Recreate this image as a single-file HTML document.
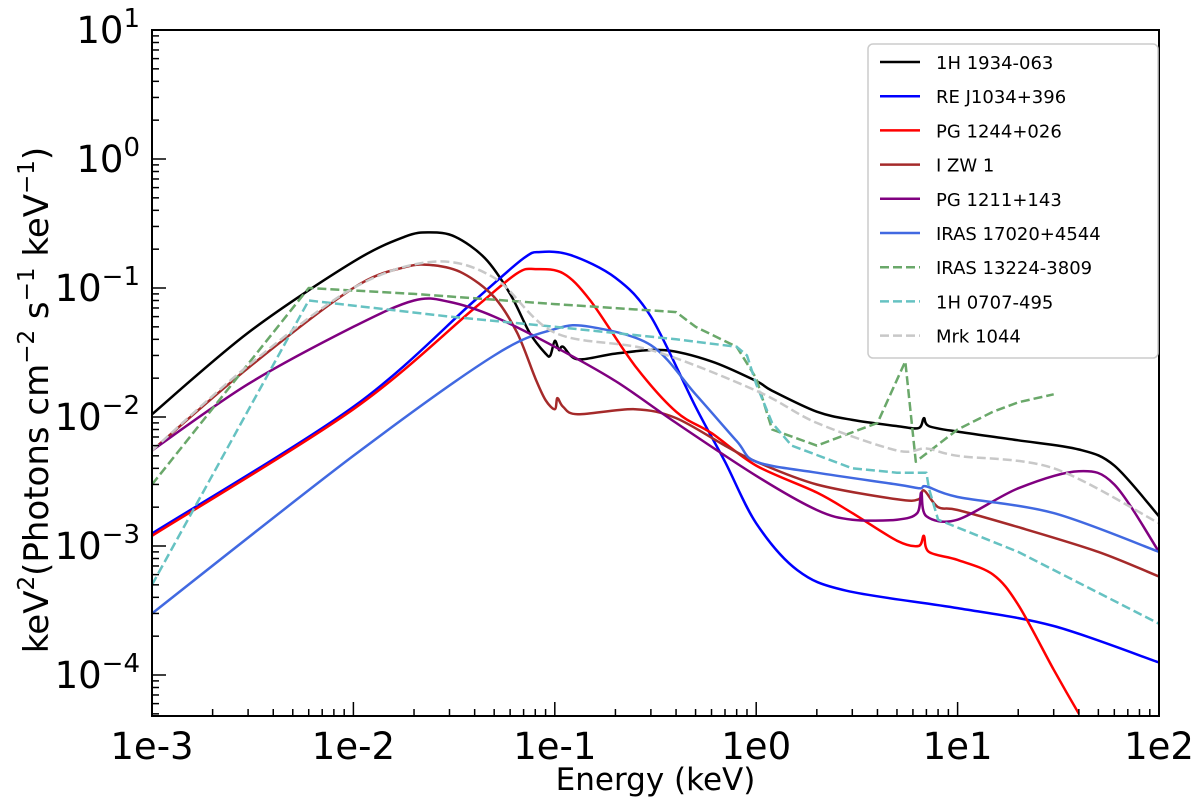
<!DOCTYPE html>
<html><head><meta charset="utf-8"><style>
body{margin:0;background:#fff;}
svg{display:block;font-family:"DejaVu Sans","Liberation Sans",sans-serif;}
</style></head><body>
<svg id="chart" width="1200" height="808"></svg>
<script>
const xTickLabels=["1e-3","1e-2","1e-1","1e0","1e1","1e2"];
const yTickExp=[-4,-3,-2,-1,0,1];
const names=["1H 1934-063","RE J1034+396","PG 1244+026","I ZW 1","PG 1211+143","IRAS 17020+4544","IRAS 13224-3809","1H 0707-495","Mrk 1044"];
const colors=["#000000","#0000ff","#ff0000","#a52a2a","#800080","#4169e1","#6aa86a","#66c2c2","#c8c8c8"];
const dashed=[false,false,false,false,false,false,true,true,true];
const e0=[0.001,0.003,0.01,0.018,0.024,0.032,0.045,0.06,0.075,0.09,0.095,0.1,0.105,0.11,0.13,0.2,0.35,0.6,1,1.2,2,3,5,6.4,6.8,7.2,10,20,40,60,100];
const y0=[0.0105,0.045,0.16,0.25,0.27,0.25,0.17,0.09,0.045,0.031,0.03,0.039,0.033,0.035,0.028,0.031,0.033,0.027,0.019,0.016,0.011,0.0095,0.0085,0.0082,0.0098,0.0085,0.0077,0.0066,0.0056,0.0042,0.0017];
const e1=[0.001,0.01,0.04,0.07,0.085,0.12,0.2,0.3,0.5,0.7,1,1.6,2.8,10,30,100];
const y1=[0.00125,0.012,0.08,0.17,0.19,0.18,0.12,0.06,0.012,0.0045,0.0015,0.00065,0.00045,0.00033,0.00024,0.000125];
const e2=[0.001,0.01,0.04,0.065,0.08,0.11,0.15,0.25,0.4,0.6,1,2,3,5,6.4,6.8,7.2,10,15,20,30,40];
const y2=[0.0012,0.0115,0.07,0.13,0.14,0.13,0.08,0.025,0.011,0.0075,0.0042,0.0026,0.0018,0.0011,0.001,0.0012,0.0009,0.00078,0.0006,0.00035,0.00011,0.00005];
const e3=[0.001,0.003,0.01,0.018,0.025,0.035,0.05,0.065,0.08,0.09,0.1,0.103,0.11,0.13,0.25,0.4,0.7,1,2,5,6.4,6.8,8,10,20,50,100];
const y3=[0.0055,0.024,0.1,0.145,0.15,0.13,0.085,0.045,0.02,0.0135,0.0115,0.014,0.012,0.0105,0.0115,0.0098,0.006,0.0045,0.003,0.0023,0.0023,0.0027,0.002,0.0019,0.0014,0.0009,0.00058];
const e4=[0.001,0.003,0.01,0.02,0.03,0.05,0.1,0.2,0.4,1,2,3,5,6.3,6.6,7,10,20,40,60,100];
const y4=[0.0055,0.018,0.05,0.08,0.078,0.06,0.035,0.019,0.009,0.0035,0.0019,0.0016,0.0016,0.0018,0.0026,0.0017,0.0016,0.0028,0.0038,0.003,0.0009];
const e5=[0.001,0.01,0.05,0.1,0.15,0.3,0.5,0.8,1,2,5,6.5,7,10,30,100];
const y5=[0.0003,0.005,0.03,0.048,0.05,0.036,0.015,0.0065,0.0045,0.0037,0.003,0.0028,0.0029,0.0024,0.0018,0.0009];
const e6=[0.001,0.006,0.02,0.1,0.4,0.5,0.8,1.0,1.2,2,4,5.5,6.2,10,15,20,30];
const y6=[0.003,0.1,0.09,0.075,0.065,0.05,0.035,0.02,0.008,0.006,0.009,0.027,0.0045,0.008,0.011,0.013,0.015];
const e7=[0.001,0.006,0.03,0.1,0.4,0.8,0.9,1.0,1.2,1.5,3,5,7,7.2,8,20,100];
const y7=[0.0005,0.08,0.06,0.05,0.04,0.035,0.03,0.018,0.009,0.006,0.004,0.0037,0.0037,0.0028,0.0016,0.0009,0.00025];
const e8=[0.001,0.003,0.01,0.025,0.05,0.1,0.3,1,2,5,7,10,30,100];
const y8=[0.0055,0.025,0.1,0.16,0.12,0.045,0.033,0.016,0.009,0.0055,0.0057,0.005,0.004,0.0015];
const Es=[e0,e1,e2,e3,e4,e5,e6,e7,e8];
const Ys=[y0,y1,y2,y3,y4,y5,y6,y7,y8];
const smoothed=[true,true,true,true,true,true,false,false,true];

const L=152,R=1159,T=30,B=716;
const xMinL=-3,xMaxL=2,yMaxL=1,yPerDec=129;
const X=e=>L+(Math.log10(e)-xMinL)/(xMaxL-xMinL)*(R-L);
const Y=v=>T+(yMaxL-Math.log10(v))*yPerDec;
const svg=document.getElementById('chart');
const NS='http://www.w3.org/2000/svg';
function mk(tag,attrs,parent){const el=document.createElementNS(NS,tag);for(const k in attrs)el.setAttribute(k,attrs[k]);(parent||svg).appendChild(el);return el;}
function smooth(pts){
  let d='M'+pts[0][0].toFixed(1)+','+pts[0][1].toFixed(1);
  const k=0.16;
  for(let i=0;i<pts.length-1;i++){
    const p0=pts[Math.max(0,i-1)],p1=pts[i],p2=pts[i+1],p3=pts[Math.min(pts.length-1,i+2)];
    const c1=[p1[0]+(p2[0]-p0[0])*k,p1[1]+(p2[1]-p0[1])*k];
    const c2=[p2[0]-(p3[0]-p1[0])*k,p2[1]-(p3[1]-p1[1])*k];
    d+='C'+c1[0].toFixed(1)+','+c1[1].toFixed(1)+' '+c2[0].toFixed(1)+','+c2[1].toFixed(1)+' '+p2[0].toFixed(1)+','+p2[1].toFixed(1);
  }
  return d;
}
function poly(pts){return pts.map((p,i)=>(i?'L':'M')+p[0].toFixed(1)+','+p[1].toFixed(1)).join('');}

const defs=mk('defs',{});const cp=mk('clipPath',{id:'clip'},defs);mk('rect',{x:L,y:T,width:R-L,height:B-T},cp);
const plot=mk('g',{'clip-path':'url(#clip)'});


for(let s=0;s<Es.length;s++){
  const pts=Es[s].map((e,i)=>[X(e),Y(Ys[s][i])]);
  const p=mk('path',{d:smoothed[s]?smooth(pts):poly(pts),fill:'none',stroke:colors[s],'stroke-width':2.5,'stroke-linejoin':'round'},plot);
  if(dashed[s])p.setAttribute('stroke-dasharray','9,4');
  
  
}
const fr=mk('rect',{x:L,y:T,width:R-L,height:B-T,fill:'none',stroke:'#000','stroke-width':2});


for(let dcd=-3;dcd<=2;dcd++){
  for(let m=1;m<10;m++){
    const e=m*Math.pow(10,dcd);if(e>100.0001)break;
    const x=X(e);const len=m===1?14:7;
    mk('line',{x1:x,x2:x,y1:B,y2:B-len,stroke:'#000','stroke-width':1.5});
  }
}
xTickLabels.forEach((lab,i)=>{
  const t=mk('text',{x:X(Math.pow(10,xMinL+i)),y:B+43,'font-size':37,'text-anchor':'middle'});t.textContent=lab;
  
  
});
for(let dcd=-5;dcd<=1;dcd++){
  for(let m=1;m<10;m++){
    const v=m*Math.pow(10,dcd);const y=Y(v);if(y<T-0.5||y>B+0.5)continue;
    const len=m===1?14:7;
    mk('line',{x1:L,x2:L+len,y1:y,y2:y,stroke:'#000','stroke-width':1.5});
  }
}
yTickExp.forEach(ex=>{
  const t=mk('text',{x:L-12,y:Y(Math.pow(10,ex))+13,'font-size':37,'text-anchor':'end'});
  
  
  t.innerHTML='10<tspan dy="-16" font-size="26">'+(ex<0?'\u2212'+(-ex):ex)+'</tspan>';
});
const xt=mk('text',{x:(L+R)/2,y:790,'font-size':31,'text-anchor':'middle'});xt.textContent='Energy (keV)';


const yt=mk('text',{x:0,y:0,'font-size':34,'text-anchor':'middle',transform:'translate(48,400) rotate(-90)'});
yt.innerHTML='keV<tspan dy="-14" font-size="23">2</tspan><tspan dy="14">(Photons cm</tspan><tspan dy="-14" font-size="23">\u22122</tspan><tspan dy="14"> s</tspan><tspan dy="-14" font-size="23">\u22121</tspan><tspan dy="14"> keV</tspan><tspan dy="-14" font-size="23">\u22121</tspan><tspan dy="14">)</tspan>';


const lg=mk('g',{});


mk('rect',{x:868,y:44,width:290,height:314,rx:5,fill:'#fff',stroke:'#ccc','stroke-width':1.5},lg);
names.forEach((n,i)=>{
  const y=62+i*34.2;
  const ln=mk('line',{x1:880,x2:920,y1:y,y2:y,stroke:colors[i],'stroke-width':2.5},lg);
  if(dashed[i])ln.setAttribute('stroke-dasharray','9,4');
  const t=mk('text',{x:936,y:y+7,'font-size':18},lg);t.textContent=n;
  
  
});
</script>
</body></html>
